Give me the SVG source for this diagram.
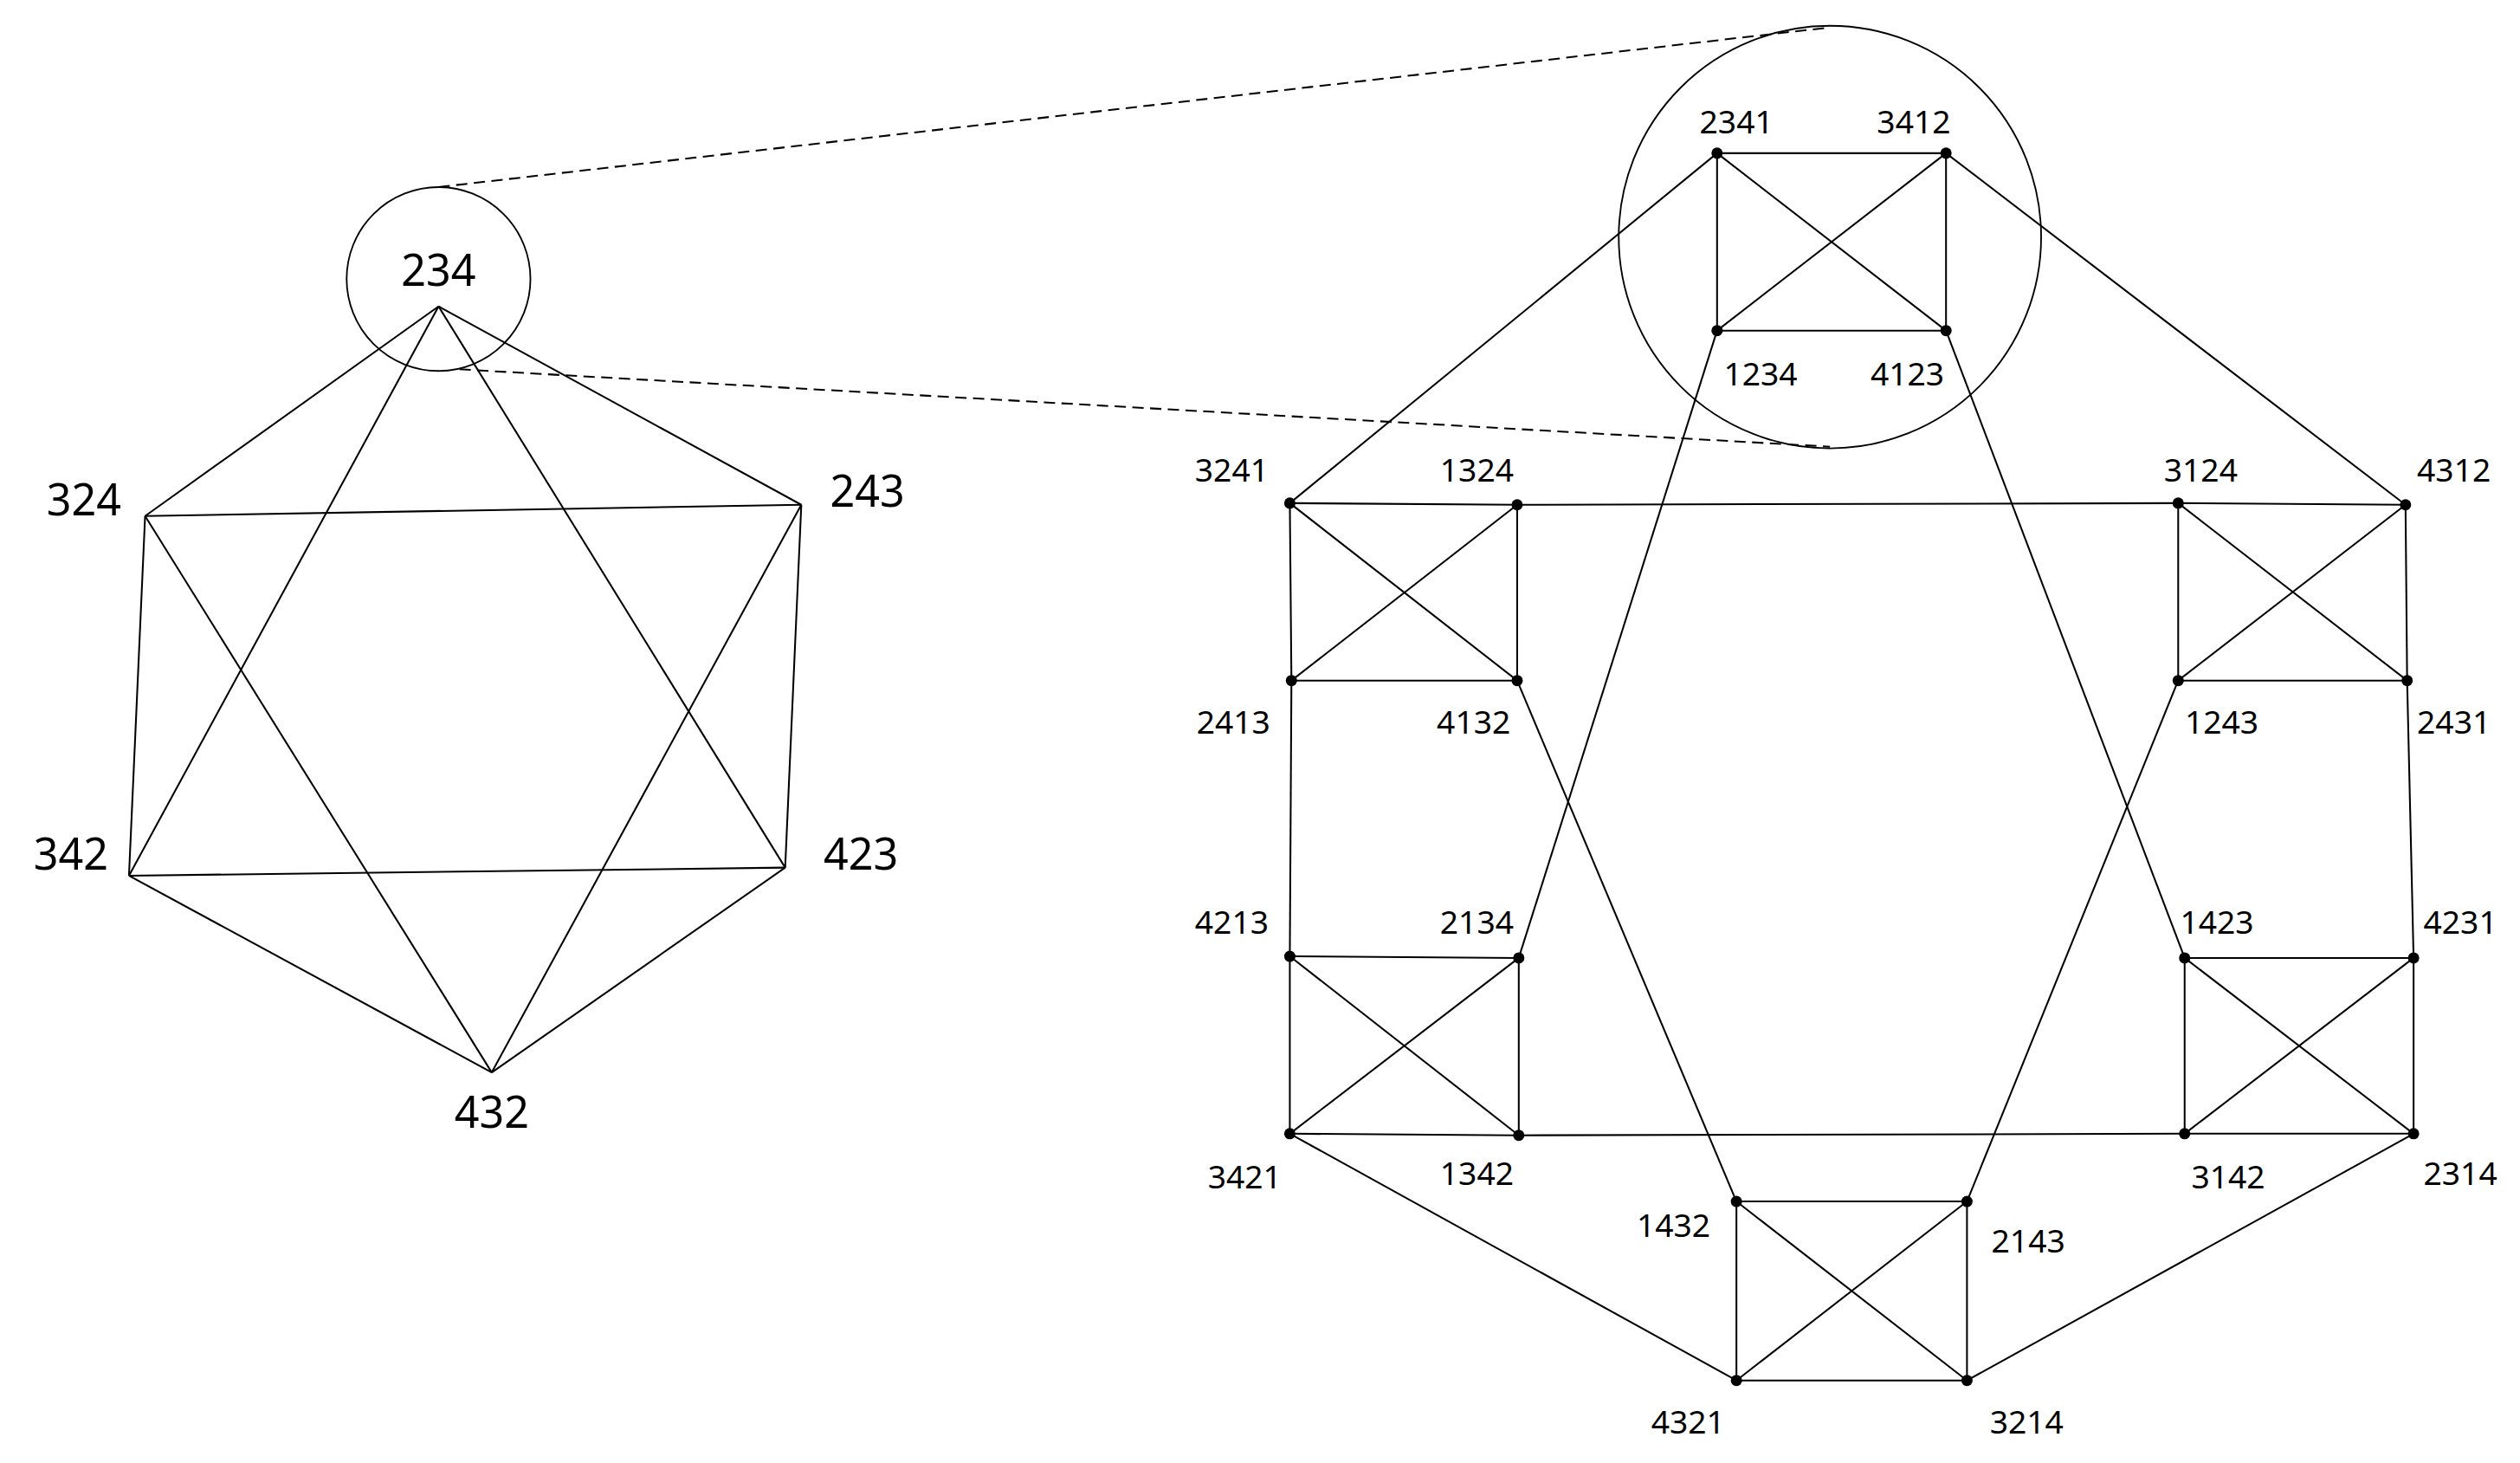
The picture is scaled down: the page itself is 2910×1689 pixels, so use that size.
<svg xmlns="http://www.w3.org/2000/svg" width="2910" height="1689" viewBox="0 0 2910 1689">
<style>
line{stroke:#000;stroke-width:1.1}
.d{stroke-dasharray:7 4}
circle.c{fill:none;stroke:#000;stroke-width:1}
circle.p{fill:#000}
text{font-family:"Noto Sans","Open Sans",sans-serif;text-anchor:middle;dominant-baseline:central}
.L{font-size:27px}
.S{font-size:20px}
</style>
<rect width="2910" height="1689" fill="#fff"/>
<g transform="scale(1.8618)">
<g id="connectors">
<line x1="272" y1="190" x2="90" y2="320"/><line x1="272" y1="190" x2="497" y2="313"/>
<line x1="90" y1="320" x2="80" y2="543"/><line x1="497" y1="313" x2="487" y2="538"/>
<line x1="80" y1="543" x2="305" y2="665"/><line x1="487" y1="538" x2="305" y2="665"/>
<line x1="90" y1="320" x2="497" y2="313"/><line x1="80" y1="543" x2="487" y2="538"/>
<line x1="272" y1="190" x2="80" y2="543"/><line x1="272" y1="190" x2="487" y2="538"/>
<line x1="90" y1="320" x2="305" y2="665"/><line x1="497" y1="313" x2="305" y2="665"/>
<line class="d" x1="272" y1="116" x2="1135" y2="17"/><line class="d" x1="285" y1="229" x2="1135" y2="277"/>
<!-- squares -->
<g id="sq">
<line x1="1065" y1="95" x2="1207" y2="95"/><line x1="1065" y1="205" x2="1207" y2="205"/><line x1="1065" y1="95" x2="1065" y2="205"/><line x1="1207" y1="95" x2="1207" y2="205"/><line x1="1065" y1="95" x2="1207" y2="205"/><line x1="1207" y1="95" x2="1065" y2="205"/>
<line x1="800" y1="312" x2="941" y2="313"/><line x1="801" y1="422" x2="941" y2="422"/><line x1="800" y1="312" x2="801" y2="422"/><line x1="941" y1="313" x2="941" y2="422"/><line x1="800" y1="312" x2="941" y2="422"/><line x1="941" y1="313" x2="801" y2="422"/>
<line x1="1351" y1="312" x2="1492" y2="313"/><line x1="1351" y1="422" x2="1493" y2="422"/><line x1="1351" y1="312" x2="1351" y2="422"/><line x1="1492" y1="313" x2="1493" y2="422"/><line x1="1351" y1="312" x2="1493" y2="422"/><line x1="1492" y1="313" x2="1351" y2="422"/>
<line x1="800" y1="593" x2="942" y2="594"/><line x1="800" y1="703" x2="942" y2="704"/><line x1="800" y1="593" x2="800" y2="703"/><line x1="942" y1="594" x2="942" y2="704"/><line x1="800" y1="593" x2="942" y2="704"/><line x1="942" y1="594" x2="800" y2="703"/>
<line x1="1355" y1="594" x2="1497" y2="594"/><line x1="1355" y1="703" x2="1497" y2="703"/><line x1="1355" y1="594" x2="1355" y2="703"/><line x1="1497" y1="594" x2="1497" y2="703"/><line x1="1355" y1="594" x2="1497" y2="703"/><line x1="1497" y1="594" x2="1355" y2="703"/>
<line x1="1077" y1="745" x2="1220" y2="745"/><line x1="1077" y1="856" x2="1220" y2="856"/><line x1="1077" y1="745" x2="1077" y2="856"/><line x1="1220" y1="745" x2="1220" y2="856"/><line x1="1077" y1="745" x2="1220" y2="856"/><line x1="1220" y1="745" x2="1077" y2="856"/>
</g>
<line x1="1065" y1="95" x2="800" y2="312"/><line x1="1207" y1="95" x2="1492" y2="313"/>
<line x1="1065" y1="205" x2="942" y2="594"/><line x1="1207" y1="205" x2="1355" y2="594"/>
<line x1="941" y1="313" x2="1351" y2="312"/><line x1="801" y1="422" x2="800" y2="593"/>
<line x1="941" y1="422" x2="1077" y2="745"/><line x1="1493" y1="422" x2="1497" y2="594"/>
<line x1="1351" y1="422" x2="1220" y2="745"/><line x1="942" y1="704" x2="1355" y2="703"/>
<line x1="800" y1="703" x2="1077" y2="856"/><line x1="1497" y1="703" x2="1220" y2="856"/>
</g>
<circle class="c" cx="272" cy="173" r="57"/>
<circle class="c" cx="1135" cy="147" r="131"/>
<g id="left-nodes" class="L">
<g id="n234"><text x="272" y="167">234</text></g>
<g id="n324"><text x="52" y="309">324</text></g>
<g id="n243"><text x="538" y="304">243</text></g>
<g id="n342"><text x="44" y="529">342</text></g>
<g id="n423"><text x="534" y="529">423</text></g>
<g id="n432"><text x="305" y="689">432</text></g>
</g>
<g id="right-nodes" class="S">
<g id="n2341"><circle class="p" cx="1065" cy="95" r="3.5"/><text x="1077" y="75">2341</text></g>
<g id="n3412"><circle class="p" cx="1207" cy="95" r="3.5"/><text x="1187" y="75">3412</text></g>
<g id="n1234"><circle class="p" cx="1065" cy="205" r="3.5"/><text x="1092" y="231">1234</text></g>
<g id="n4123"><circle class="p" cx="1207" cy="205" r="3.5"/><text x="1183" y="231">4123</text></g>
<g id="n3241"><circle class="p" cx="800" cy="312" r="3.5"/><text x="764" y="291">3241</text></g>
<g id="n1324"><circle class="p" cx="941" cy="313" r="3.5"/><text x="916" y="291">1324</text></g>
<g id="n2413"><circle class="p" cx="801" cy="422" r="3.5"/><text x="765" y="447">2413</text></g>
<g id="n4132"><circle class="p" cx="941" cy="422" r="3.5"/><text x="914" y="447">4132</text></g>
<g id="n3124"><circle class="p" cx="1351" cy="312" r="3.5"/><text x="1365" y="291">3124</text></g>
<g id="n4312"><circle class="p" cx="1492" cy="313" r="3.5"/><text x="1522" y="291">4312</text></g>
<g id="n1243"><circle class="p" cx="1351" cy="422" r="3.5"/><text x="1378" y="447">1243</text></g>
<g id="n2431"><circle class="p" cx="1493" cy="422" r="3.5"/><text x="1522" y="447">2431</text></g>
<g id="n4213"><circle class="p" cx="800" cy="593" r="3.5"/><text x="764" y="571">4213</text></g>
<g id="n2134"><circle class="p" cx="942" cy="594" r="3.5"/><text x="916" y="571">2134</text></g>
<g id="n3421"><circle class="p" cx="800" cy="703" r="3.5"/><text x="772" y="729">3421</text></g>
<g id="n1342"><circle class="p" cx="942" cy="704" r="3.5"/><text x="916" y="727">1342</text></g>
<g id="n1423"><circle class="p" cx="1355" cy="594" r="3.5"/><text x="1375" y="571">1423</text></g>
<g id="n4231"><circle class="p" cx="1497" cy="594" r="3.5"/><text x="1526" y="571">4231</text></g>
<g id="n3142"><circle class="p" cx="1355" cy="703" r="3.5"/><text x="1382" y="729">3142</text></g>
<g id="n2314"><circle class="p" cx="1497" cy="703" r="3.5"/><text x="1526" y="727">2314</text></g>
<g id="n1432"><circle class="p" cx="1077" cy="745" r="3.5"/><text x="1038" y="759">1432</text></g>
<g id="n2143"><circle class="p" cx="1220" cy="745" r="3.5"/><text x="1258" y="769">2143</text></g>
<g id="n4321"><circle class="p" cx="1077" cy="856" r="3.5"/><text x="1047" y="881">4321</text></g>
<g id="n3214"><circle class="p" cx="1220" cy="856" r="3.5"/><text x="1257" y="881">3214</text></g>
</g>
</g>
</svg>
